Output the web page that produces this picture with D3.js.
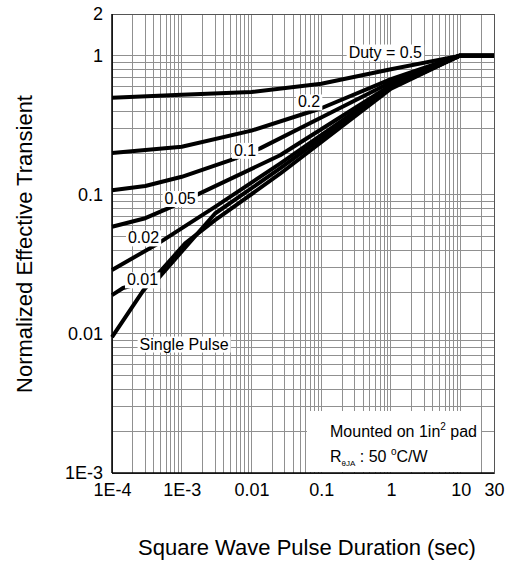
<!DOCTYPE html>
<html>
<head>
<meta charset="utf-8">
<script src="https://cdn.jsdelivr.net/npm/d3@7"></script>
<style>
  html, body { margin: 0; padding: 0; background: #fff; }
  svg { display: block; font-family: "Liberation Sans", Arial, Helvetica, sans-serif; }
</style>
</head>
<body>
<svg id="chart" width="509" height="562"></svg>
<script>
// ---- data ----
const xTickValues = [1e-4, 1e-3, 0.01, 0.1, 1, 10, 30];
const xTickLabels = ["1E-4", "1E-3", "0.01", "0.1", "1", "10", "30"];
const yTickValues = [1e-3, 0.01, 0.1, 1, 2];
const yTickLabels = ["1E-3", "0.01", "0.1", "1", "2"];

const duty05X = [1e-4, 1e-3, 0.01, 0.1, 1, 9.5, 30];
const duty05Y = [0.50, 0.525, 0.55, 0.63, 0.80, 1.0, 1.0];

const duty02X = [1e-4, 1e-3, 0.01, 0.1, 1, 9.5, 30];
const duty02Y = [0.20, 0.222, 0.29, 0.42, 0.68, 1.0, 1.0];

const duty01X = [1e-4, 3e-4, 1e-3, 5.4e-3, 0.0133, 0.1, 1, 9.5, 30];
const duty01Y = [0.108, 0.116, 0.135, 0.18, 0.216, 0.36, 0.645, 1.0, 1.0];

const duty005X = [1e-4, 3e-4, 6e-4, 1.64e-3, 0.0257, 1, 9.5, 30];
const duty005Y = [0.059, 0.068, 0.079, 0.10, 0.193, 0.615, 1.0, 1.0];

const duty002X = [1e-4, 4.6e-4, 3e-3, 0.0257, 1, 9.5, 30];
const duty002Y = [0.0288, 0.0448, 0.082, 0.168, 0.60, 1.0, 1.0];

const duty001X = [1e-4, 1.44e-4, 4.6e-4, 3e-3, 0.0257, 1, 9.5, 30];
const duty001Y = [0.019, 0.0214, 0.0251, 0.0735, 0.155, 0.59, 1.0, 1.0];

const singleX = [1e-4, 2.8e-4, 1.12e-3, 3e-3, 0.0257, 1, 9.5, 30];
const singleY = [0.0095, 0.0205, 0.0448, 0.0658, 0.142, 0.58, 1.0, 1.0];

const seriesX = [duty05X, duty02X, duty01X, duty005X, duty002X, duty001X, singleX];
const seriesY = [duty05Y, duty02Y, duty01Y, duty005Y, duty002Y, duty001Y, singleY];

const curveLabels = ["Duty = 0.5", "0.2", "0.1", "0.05", "0.02", "0.01", "Single Pulse"];
const curveLabelX = [0.83, 0.067, 0.0081, 9.5e-4, 2.83e-4, 2.74e-4, 1.08e-3];
const curveLabelY = [1.07, 0.468, 0.21, 0.0946, 0.0493, 0.0246, 0.0085];

// ---- layout ----
const mLeft = 112, mRight = 494, mTop = 14, mBottom = 473;
const svg = d3.select("#chart");

const x = d3.scaleLog().domain([1e-4, 30]).range([mLeft, mRight]);
const y = d3.scaleLog().domain([1e-3, 2]).range([mBottom, mTop]);

// grid values
const xGrid = [];
for (let e = -4; e <= 1; e++) for (let k = 1; k <= 9; k++) {
  const v = k * Math.pow(10, e);
  if (v <= 30 * 1.0001) xGrid.push(v);
}
const yGrid = [];
for (let e = -3; e <= 0; e++) for (let k = 1; k <= 9; k++) {
  const v = k * Math.pow(10, e);
  if (v <= 2 * 1.0001) yGrid.push(v);
}

const grid = svg.append("g").attr("stroke", "#909090").attr("stroke-width", 1).attr("shape-rendering", "crispEdges");
grid.selectAll("line.v").data(xGrid).join("line").attr("class", "v")
  .attr("x1", d => x(d)).attr("x2", d => x(d)).attr("y1", mTop).attr("y2", mBottom);
grid.selectAll("line.h").data(yGrid).join("line").attr("class", "h")
  .attr("x1", mLeft).attr("x2", mRight).attr("y1", d => y(d)).attr("y2", d => y(d));

// frame
svg.append("rect").attr("x", mLeft).attr("y", mTop).attr("width", mRight - mLeft).attr("height", mBottom - mTop)
  .attr("fill", "none").attr("stroke", "#555").attr("stroke-width", 1).attr("shape-rendering", "crispEdges");

// Mounted box background
svg.append("rect").attr("x", 307).attr("y", 411).attr("width", 174).attr("height", 61).attr("fill", "#fff");

// curves
const line = d3.line().x(d => x(d[0])).y(d => y(d[1]));
seriesX.forEach((xs, i) => {
  const pts = xs.map((v, j) => [v, seriesY[i][j]]);
  svg.append("path").datum(pts).attr("d", line)
    .attr("fill", "none").attr("stroke", "#000").attr("stroke-width", 4)
    .attr("stroke-linejoin", "round").attr("stroke-linecap", "butt");
});

// axes lines
svg.append("line").attr("x1", mLeft).attr("x2", mLeft).attr("y1", mTop).attr("y2", mBottom)
  .attr("stroke", "#000").attr("stroke-width", 1.5);
svg.append("line").attr("x1", mLeft).attr("x2", mRight).attr("y1", mBottom).attr("y2", mBottom)
  .attr("stroke", "#000").attr("stroke-width", 1.5);

// tick labels via d3 axes
const xAxis = d3.axisBottom(x).tickValues(xTickValues)
  .tickFormat((d, i) => xTickLabels[i]).tickSize(0).tickPadding(10);
const gx = svg.append("g").attr("transform", `translate(0,${mBottom})`).call(xAxis);
gx.select(".domain").remove();
gx.selectAll("text").attr("font-size", 18).attr("fill", "#000")
  .attr("font-family", '"Liberation Sans", Arial, sans-serif');

const yAxis = d3.axisLeft(y).tickValues(yTickValues)
  .tickFormat((d, i) => yTickLabels[i]).tickSize(0).tickPadding(9);
const gy = svg.append("g").attr("transform", `translate(${mLeft},0)`).call(yAxis);
gy.select(".domain").remove();
gy.selectAll("text").attr("font-size", 18).attr("fill", "#000")
  .attr("font-family", '"Liberation Sans", Arial, sans-serif');

// curve labels with white boxes
curveLabels.forEach((t, i) => {
  const g = svg.append("g");
  const txt = g.append("text").attr("x", x(curveLabelX[i])).attr("y", y(curveLabelY[i]))
    .attr("text-anchor", "middle").attr("dy", "0.36em")
    .attr("font-size", 16).attr("fill", "#000").text(t);
  const bb = txt.node().getBBox();
  g.insert("rect", "text").attr("x", bb.x - 2).attr("y", bb.y + 1).attr("width", bb.width + 4)
    .attr("height", bb.height - 1).attr("fill", "#fff");
});

// Mounted note
const note = svg.append("g").attr("font-size", 16).attr("fill", "#000");
const l1 = note.append("text").attr("x", 330).attr("y", 437);
l1.append("tspan").text("Mounted on 1in");
l1.append("tspan").attr("font-size", 10).attr("dy", -7).text("2");
l1.append("tspan").attr("dy", 7).text(" pad");
const l2 = note.append("text").attr("x", 330).attr("y", 462);
l2.append("tspan").text("R");
l2.append("tspan").attr("font-size", 8).attr("dy", 4).text("θJA");
l2.append("tspan").attr("dy", -4).text(" : 50 ");
l2.append("tspan").attr("font-size", 10).attr("dy", -7).text("o");
l2.append("tspan").attr("dy", 7).text("C/W");

// axis titles
svg.append("text").attr("x", 307).attr("y", 555).attr("text-anchor", "middle")
  .attr("font-size", 22).attr("fill", "#000").text("Square Wave Pulse Duration (sec)");
svg.append("text").attr("transform", "translate(32,244) rotate(-90)").attr("text-anchor", "middle")
  .attr("font-size", 22).attr("fill", "#000").text("Normalized Effective Transient");
</script>
</body>
</html>
